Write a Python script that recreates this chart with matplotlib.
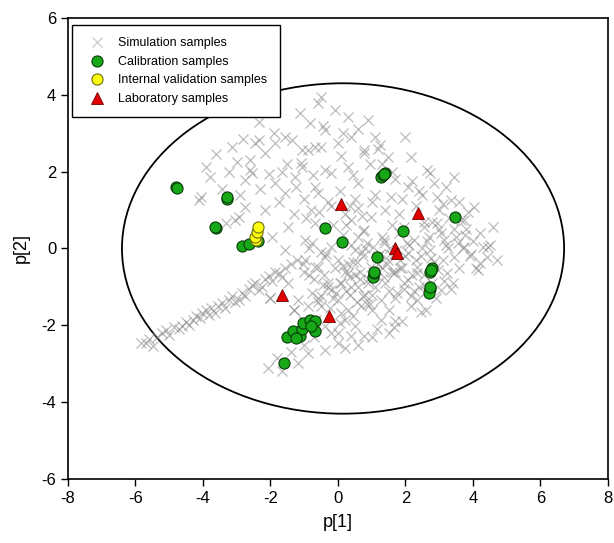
import matplotlib
matplotlib.use("Agg")
import matplotlib.pyplot as plt
from matplotlib.patches import Ellipse

plt.rcParams["font.family"] = ["Liberation Sans", "DejaVu Sans"]
plt.rcParams["axes.unicode_minus"] = False

# ---- Simulation samples (gris, leidos a ojo del grafico) ----
sim_x = [
    # banda inferior izquierda
    -5.85, -5.70, -5.60, -5.49, -5.35, -5.20, -5.10, -5.00, -4.85, -4.70,
    -4.61, -4.50, -4.40, -4.31, -4.20, -4.10, -4.02, -3.90, -3.82, -3.75,
    -3.63, -3.55, -3.43, -3.35, -3.24, -3.14, -3.05, -2.94, -2.85, -2.74,
    -2.65, -2.55, -2.45, -2.35, -2.26, -2.15, -2.05, -1.96, -1.86, -1.76,
    -1.65, -1.57, -1.47, -1.40, -2.00, -1.30, -1.18, -1.00,
    # zona superior difusa
    -4.12, -4.07, -3.92, -3.80, -3.60, -3.45, -3.33, -3.24, -3.15, -3.04,
    -2.94, -2.90, -2.82, -2.74, -2.74, -2.60, -2.55, -2.45, -2.35, -2.30,
    -2.16, -2.16, -2.05, -1.96, -1.86, -1.86, -1.75, -1.57, -1.57, -1.50,
    -1.47, -1.37, -1.30, -1.28, -1.13, -1.09, -1.08, -1.08, -1.00, -0.98,
    -0.88, -0.83, -0.80, -0.69, -0.69, -0.69, -0.59, -0.59, -0.50, -0.49,
    -0.39, -0.39, -0.30, -0.20, -0.10, 0.00, 0.05, 0.20, 0.29, 0.29,
    0.39, 0.39, 0.50, 0.59, 0.78, 0.78, 0.78, 0.88, 0.98, 1.10,
    1.10, 1.30, 1.47, 1.57, 1.70, 1.80, 2.06, 2.16, 2.30, 2.55,
    2.65, 2.74, 2.94, 2.94, 3.20, 3.43, 3.72, 4.02, 4.22, -2.35,
    -1.90, -0.20, 0.60, 1.20, 2.40, 3.00, 3.60,
    -0.95, -0.55, -0.15, 0.35, 0.70, 1.00, 1.40, 1.90, 2.50, 3.10,
    -1.25, -0.75, 0.10, 0.45, 0.95, 1.60, 2.20, 2.85, 3.35, 3.85,
    -1.65, -2.60, -3.00, -0.45, 0.15, 0.60, 1.25, 2.00,
    # nube principal
    -1.20, -1.00, -0.98, -0.90, -0.85, -0.78, -0.78, -0.70, -0.69, -0.60,
    -0.59, -0.50, -0.49, -0.49, -0.40, -0.39, -0.39, -0.30, -0.20, -0.20,
    -0.20, -0.10, 0.00, 0.00, 0.00, 0.00, 0.05, 0.10, 0.15, 0.20,
    0.20, 0.29, 0.29, 0.35, 0.39, 0.40, 0.45, 0.49, 0.49, 0.55,
    0.59, 0.60, 0.65, 0.69, 0.75, 0.78, 0.80, 0.85, 0.90, 0.98,
    1.00, 1.05, 1.10, 1.15, 1.20, 1.27, 1.27, 1.30, 1.37, 1.40,
    1.47, 1.50, 1.55, 1.60, 1.66, 1.70, 1.76, 1.80, 1.85, 1.90,
    1.95, 2.06, 2.06, 2.10, 2.15, 2.25, 2.30, 2.35, 2.35, 2.40,
    2.50, 2.55, 2.60, 2.70, 2.74, 2.80, 2.90, 3.00, 3.04, 3.10,
    3.14, 3.24, 3.30, 3.40, 3.43, 3.50, 3.60, 3.72, 3.80, 3.90,
    4.00, 4.10, 4.22, 4.41, 4.50, 4.70, 0.30, 0.70, 1.10, 1.50,
    1.90, 2.20, 2.60, 0.10, 0.50, 0.90, 1.30, 1.70, 2.00, -0.60,
    -0.30, 0.40, 0.80, 1.20, 1.60, 2.80, 3.20, 3.70, 2.45, 1.00,
    -0.15, 0.25, 0.65, 1.05, 1.45, 1.85, 2.25, 2.65, 3.05, 3.45,
    -0.85, -0.45, -0.05, 0.35, 0.75, 1.15, 1.55, 1.95, 2.35, 2.75,
    3.15, 3.55, 3.95, 4.30, -0.65, -0.25, 0.15, 0.55, 0.95, 1.35,
    1.75, 2.15, 2.55, 2.95, 3.35, 3.75, 4.15, 0.05, 0.45, 0.85,
    1.25, 1.65, 2.05, 2.45, 2.85, 3.25, -1.05, -0.35, 0.25, 0.75,
    1.35, 1.95, 2.55, 3.65, 4.45, 4.60,
    # cola inferior
    -2.06, -1.80, -1.67, -1.40, -1.18, -1.00, -0.88, -0.70, -0.39, 0.20,
    0.60, 1.00, 1.50, 1.70, -1.57, -2.00, -1.30, -1.00,
]
sim_y = [
    # banda inferior izquierda
    -2.45, -2.47, -2.35, -2.55, -2.30, -2.20, -2.12, -2.25, -2.05, -2.10,
    -2.03, -1.92, -1.98, -1.86, -1.75, -1.82, -1.69, -1.60, -1.72, -1.55,
    -1.69, -1.50, -1.43, -1.55, -1.34, -1.25, -1.40, -1.34, -1.15, -1.25,
    -1.05, -0.95, -0.91, -1.08, -0.99, -0.80, -0.72, -0.85, -0.62, -0.65,
    -0.75, -0.50, -0.91, -0.40, -1.30, -1.60, -1.34, -1.90,
    # zona superior difusa
    1.26, 1.35, 2.13, 1.85, 2.45, 1.55, 0.66, 2.00, 2.65, 0.74,
    0.83, 1.40, 2.85, 1.78, 1.09, 2.30, 1.96, 2.74, 2.82, 1.55,
    2.48, 1.00, 1.95, 0.31, 1.70, 2.74, 1.20, 1.44, 2.91, 2.20,
    0.57, 2.82, 0.90, 1.87, 3.52, 2.23, 2.56, 2.13, 1.30, 0.22,
    2.56, 3.26, 1.00, 1.61, 0.66, 2.65, 3.78, 1.44, 2.64, 3.95,
    3.08, 2.04, 1.20, 1.96, 3.61, 2.74, 1.50, 0.90, 3.43, 2.13,
    2.91, 0.74, 1.30, 1.70, 2.56, 2.48, 0.48, 3.35, 0.83, 2.90,
    1.40, 2.20, 2.39, 1.35, 1.80, 0.90, 1.61, 2.39, 1.10, 0.57,
    2.04, 1.96, 1.35, 0.66, 1.60, 1.87, 0.74, 1.09, 0.39, 3.30,
    3.00, 1.10, 1.05, 2.60, 1.50, 1.00, 1.20,
    0.80, 0.95, 0.60, 1.10, 0.85, 1.20, 1.00, 1.30, 1.40, 1.15,
    1.60, 1.90, 2.40, 1.90, 2.20, 2.00, 1.75, 1.70, 1.25, 0.95,
    2.00, 2.05, 2.25, 3.20, 3.00, 3.10, 2.70, 2.90,
    # nube principal
    -0.30, -0.60, -0.30, -1.50, 0.00, -1.17, 0.13, -0.80, -0.48, -1.30,
    -0.48, -0.10, -1.51, -1.25, -0.70, -0.21, -2.03, -1.00, -1.08, 0.04,
    -2.21, -0.50, -0.30, -1.34, -2.21, -2.47, -0.90, -1.69, 0.35, -1.86,
    -0.60, -0.65, -1.60, -1.20, -2.29, 0.10, -0.35, -0.04, -2.03, -1.40,
    -0.99, 0.30, -0.60, -1.51, -0.20, -2.29, -1.20, 0.15, -0.80, -0.48,
    -1.60, 0.05, -1.00, -2.10, -0.40, -1.34, -1.86, 0.30, 0.22, -0.90,
    -0.30, -1.60, 0.00, -0.60, -0.65, -1.30, -1.17, 0.40, -0.30, -1.90,
    -0.90, -0.13, -0.82, 0.10, -1.50, 0.22, -0.30, -0.48, -1.34, -1.00,
    0.00, -0.70, -1.60, 0.30, -0.04, -0.90, -1.30, 0.50, -1.08, -0.30,
    0.22, -0.65, 0.80, -0.90, -0.21, 0.30, -0.50, 0.04, 0.50, -0.20,
    0.20, -0.50, -0.38, -0.21, 0.10, -0.30, -0.40, -0.10, -0.70, -1.10,
    -0.50, -0.70, -1.10, -0.90, -0.70, -0.90, -0.50, -0.60, -0.20, -1.40,
    -0.90, -1.00, 0.00, -0.20, 0.60, 0.70, 0.10, 0.00, -0.20, -1.20,
    -1.30, -1.10, -0.80, -0.60, -0.40, -0.50, -1.10, 0.20, 0.40, 0.50,
    -0.70, -0.95, -1.15, -0.75, -1.25, -0.55, -0.15, -1.05, -0.65, -0.25,
    -0.85, 0.15, -0.15, 0.05, -1.85, -1.55, -0.45, -0.35, -1.45, -0.75,
    -0.05, -1.25, -0.95, -0.55, -1.05, 0.35, -0.55, -1.95, -1.75, -1.45,
    -0.15, -2.05, 0.15, -1.65, -0.35, 0.00, -0.40, -0.15, 0.60, 0.45,
    0.15, 0.55, 0.70, 0.75, 0.05, 0.55,
    # cola inferior
    -3.12, -2.85, -3.20, -2.70, -2.99, -2.50, -2.73, -2.30, -2.64, -2.60,
    -2.50, -2.30, -2.20, -1.90, -0.04, -1.30, -1.60, -1.90,
]

# ---- Calibration samples ----
calib_x = [-4.80, -4.77, -3.30, -3.28, -3.61, -3.63, -2.84, -2.63, -2.37,
           -0.39, 0.13, 1.27, 1.32, 1.39, 1.35, 1.94, 3.47, 1.16,
           1.03, 1.06, 1.08, 2.79, 2.74, 2.77, 2.72, 2.69, 2.74,
           -1.59, -1.52, -1.34, -1.13, -1.08, -1.03, -0.83, -0.67, -0.69,
           -0.79, -1.23]
calib_y = [1.60, 1.57, 1.29, 1.33, 0.54, 0.57, 0.07, 0.12, 0.20,
           0.54, 0.18, 1.87, 1.91, 1.96, 1.93, 0.46, 0.83, -0.23,
           -0.73, -0.65, -0.60, -0.52, -0.60, -0.56, -1.06, -1.17, -0.99,
           -2.97, -2.31, -2.14, -2.28, -2.10, -1.93, -1.86, -1.90, -2.14,
           -2.03, -2.34]

# ---- Internal validation samples ----
valid_x = [-2.42, -2.45, -2.40, -2.36]
valid_y = [0.22, 0.31, 0.43, 0.55]

# ---- Laboratory samples ----
lab_x = [-1.67, -0.26, 0.08, 2.38, 1.70, 1.74]
lab_y = [-1.21, -1.76, 1.15, 0.93, 0.01, -0.11]

fig = plt.figure(figsize=(6.14, 5.43), dpi=100)
ax = fig.add_axes([0.1107, 0.1179, 0.8795, 0.849])

ax.plot(sim_x, sim_y, linestyle="none", marker="x", markersize=7,
        markeredgewidth=0.9, color="#8c8c8c", alpha=0.58,
        label="Simulation samples")
ax.plot(calib_x, calib_y, linestyle="none", marker="o", markersize=8,
        markerfacecolor="#16a816", markeredgecolor="#0b3d0b",
        markeredgewidth=0.8, label="Calibration samples")
ax.plot(valid_x, valid_y, linestyle="none", marker="o", markersize=8,
        markerfacecolor="#ffff10", markeredgecolor="#6b6b10",
        markeredgewidth=0.8, label="Internal validation samples")
ax.plot(lab_x, lab_y, linestyle="none", marker="^", markersize=8,
        markerfacecolor="#e00000", markeredgecolor="#700000",
        markeredgewidth=0.6, label="Laboratory samples")

# elipse de confianza (Hotelling T2)
ax.add_patch(Ellipse((0.15, 0.0), 13.1, 8.6, fill=False,
                     edgecolor="black", linewidth=1.3, zorder=1))

ax.set_xlim(-8, 8)
ax.set_ylim(-6, 6)
ax.set_xticks(range(-8, 9, 2))
ax.set_yticks(range(-6, 7, 2))
ax.tick_params(direction="out", length=5, width=1, labelsize=12,
               top=False, right=False)
for sp in ax.spines.values():
    sp.set_linewidth(1.2)

ax.set_xlabel("p[1]", fontsize=13, labelpad=6)
ax.set_ylabel("p[2]", fontsize=13, labelpad=8)

leg = ax.legend(loc="upper left", bbox_to_anchor=(0.0074, 0.985),
                borderaxespad=0, fontsize=9, fancybox=False, framealpha=1,
                edgecolor="black", borderpad=1.0, labelspacing=0.52,
                handletextpad=0.7, handlelength=2.0)
leg.get_frame().set_linewidth(1.0)
for h in leg.legend_handles:
    h.set_alpha(1)
leg.legend_handles[0].set_color("#c8c8c8")

fig.savefig("out.png", dpi=100)
